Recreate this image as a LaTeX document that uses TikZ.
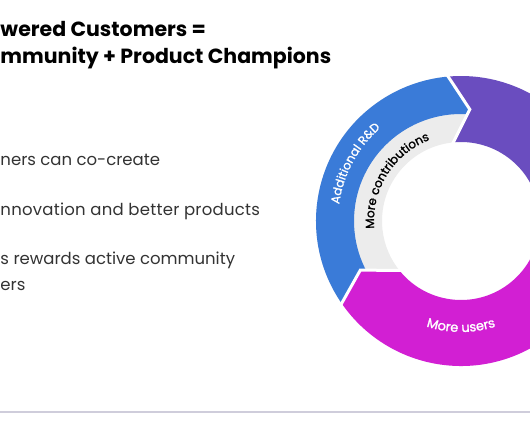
\documentclass[tikz,border=0pt]{standalone}
\usepackage{fontspec}
\setmainfont{Poppins}
\usetikzlibrary{decorations.text}
\definecolor{rblue}{HTML}{3A7BD8}
\definecolor{rpurple}{HTML}{6A4DBF}
\definecolor{rmag}{HTML}{D21FD3}
\definecolor{rgray}{HTML}{ECECEC}
\definecolor{rtext}{HTML}{333333}
\definecolor{rline}{HTML}{CFCDDB}
\begin{document}
\begin{tikzpicture}[x=1pt,y=1pt,
  titletext/.style={anchor=base west, font=\fontsize{20.5}{25}\selectfont\bfseries, text=black, inner sep=0pt},
  bodytext/.style={anchor=base west, font=\fontsize{16.5}{20}\selectfont, text=rtext, inner sep=0pt},
  gapline/.style={draw=white, line width=3pt}]
\useasboundingbox (0,0) rectangle (530,442);
\fill[white] (0,0) rectangle (530,442);
\clip (0,0) rectangle (530,442);

% title
\node[titletext] (t1) at (0.3,405) {wered Customers =};
\node[titletext] (t2) at (0.3,378.7) {mmunity + Product Champions};

% body
\node[bodytext] (b1) at (0.3,276) {ners can co-create};
\node[bodytext] (b2) at (0.3,226) {\addfontfeature{LetterSpace=1.5}nnovation and better products};
\node[bodytext] (b3) at (0.3,177) {s rewards active community};
\node[bodytext] (b4) at (0.3,151) {ers};

% bottom rule
\draw[rline, line width=2pt] (0,30.3) -- (530,30.3);

% donut
\begin{scope}[shift={(461,221)}]
  % purple segment
  \fill[rpurple] (95.5:145) arc[start angle=95.5, end angle=-10, radius=145]
     -- (-20:112) -- (-10:79) arc[start angle=-10, end angle=96.5, radius=79]
     -- (85.5:112) -- cycle;
  % magenta segment
  \fill[rmag] (-10:145) arc[start angle=-10, end angle=-145, radius=145]
     -- (-154:112) -- (-140:79) arc[start angle=-140, end angle=-10, radius=79]
     -- (-20:112) -- cycle;
  % left segment (blue outer, gray inner)
  \begin{scope}
    \clip (215:145) arc[start angle=215, end angle=95.5, radius=145]
       -- (85.5:112) -- (96.5:79) arc[start angle=96.5, end angle=220, radius=79]
       -- (206:112) -- cycle;
    \fill[rgray] (0,0) circle (146);
    \fill[rblue, even odd rule] (0,0) circle (146) (0,0) circle (107);
  \end{scope}
  % gaps
  \draw[gapline] (95.5:147) -- (85.5:112) -- (96.5:77);
  \draw[gapline] (215:147) -- (206:112) -- (220:77);
  \draw[gapline] (-10:147) -- (-20:112) -- (-10:77);

  % labels
  \path[decorate, decoration={text along path, text align=center,
      text={|\fontsize{12}{12}\selectfont\addfontfeature{FakeBold=1}\color{white}|Additional R{\&}D}}]
      (200:123) arc[start angle=200, end angle=103, radius=123];
  \path[decorate, decoration={text along path, text align=center,
      text={|\fontsize{12}{12}\selectfont\addfontfeature{FakeBold=1.5}\color{black}|More contributions}}]
      (200:87) arc[start angle=200, end angle=96, radius=87];
  \path[decorate, decoration={text along path, text align=center,
      text={|\fontsize{13}{14}\selectfont\addfontfeature{FakeBold=1.5}\color{white}|More users}}]
      (225:111) arc[start angle=225, end angle=315, radius=111];
\end{scope}
\end{tikzpicture}
\end{document}
